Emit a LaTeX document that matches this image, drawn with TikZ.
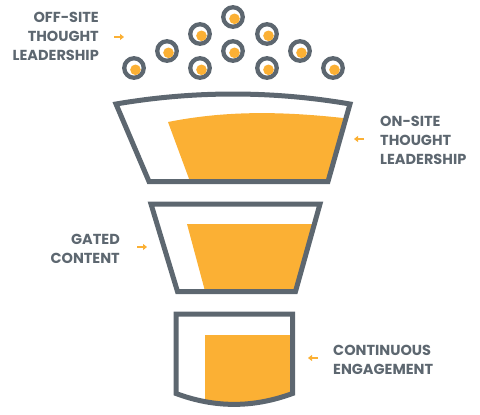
\documentclass[tikz,border=0pt]{standalone}
\usepackage{fontspec}
\setmainfont{Poppins}
\usetikzlibrary{arrows.meta}
\definecolor{fgray}{HTML}{5D6770}
\definecolor{forange}{HTML}{FBB034}
\tikzset{
  outline/.style={draw=fgray, line width=5pt, line join=miter},
  ring/.style={draw=fgray, line width=4.3pt, fill=white},
  label/.style={text=fgray, font=\bfseries\fontsize{14.5}{19}\selectfont, inner sep=0pt},
  pointer/.style={draw=forange, line width=1.8pt, -{Triangle[length=4pt,width=6pt]}},
}
\begin{document}
\begin{tikzpicture}[x=1pt,y=-1pt]
\useasboundingbox (0,0) rectangle (480,415);
% ---- circles
\foreach \cx/\cy [count=\i] in {233/17, 200/34, 267/34, 167/51, 233/51, 300/51, 134/68, 200/68, 267/68, 333/68}{
  \node[circle, ring, minimum size=19.5pt, inner sep=0pt] (c\i) at (\cx,\cy) {};
  \fill[forange] (\cx+1.5,\cy+1.8) circle (5.3pt);
}
% ---- funnel 1
\begin{scope}
\clip (116,104) .. controls (194,90.7) and (272,90.7) .. (350,104) -- (328,181.5) -- (149,181.5) -- cycle;
\fill[forange] (168,122) .. controls (226,110.5) and (284,110.5) .. (360,120) -- (360,195) -- (195,195) -- cycle;
\end{scope}
\draw[outline] (116,104) .. controls (194,90.7) and (272,90.7) .. (350,104) -- (328,181.5) -- (149,181.5) -- cycle;
% ---- funnel 2
\begin{scope}
\clip (151,204) -- (320,204) -- (295.5,291.5) -- (177.5,291.5) -- cycle;
\fill[forange] (187,224) -- (330,224) -- (330,300) -- (207.4,300) -- cycle;
\end{scope}
\draw[outline] (151,204) -- (320,204) -- (295.5,291.5) -- (177.5,291.5) -- cycle;
% ---- funnel 3
\begin{scope}
\clip (176,314) -- (292.5,314) -- (292.5,393.5) .. controls (253,408) and (215,408) .. (176,393.5) -- cycle;
\fill[forange] (205,335) rectangle (300,420);
\end{scope}
\draw[outline] (176,314) -- (292.5,314) -- (292.5,393.5) .. controls (253,408) and (215,408) .. (176,393.5) -- cycle;
% ---- labels
\node[label, align=right, anchor=north east] (offsite) at (99,12) {OFF-SITE\\THOUGHT\\LEADERSHIP};
\node[label, align=left, anchor=north west] (onsite) at (380,115.5) {ON-SITE\\THOUGHT\\LEADERSHIP};
\node[label, align=right, anchor=north east] (gated) at (120,234) {GATED\\CONTENT};
\node[label, align=left, anchor=north west] (cont) at (333,344.5) {CONTINUOUS\\ENGAGEMENT};
% ---- pointers
\coordinate (a1s) at (114,37); \coordinate (a1e) at (124,37);
\coordinate (a2s) at (364,139); \coordinate (a2e) at (354,139);
\coordinate (a3s) at (137,247); \coordinate (a3e) at (147,247);
\coordinate (a4s) at (318,358); \coordinate (a4e) at (308,358);
\draw[pointer] (a1s) -- (a1e);
\draw[pointer] (a2s) -- (a2e);
\draw[pointer] (a3s) -- (a3e);
\draw[pointer] (a4s) -- (a4e);
\end{tikzpicture}
\end{document}
